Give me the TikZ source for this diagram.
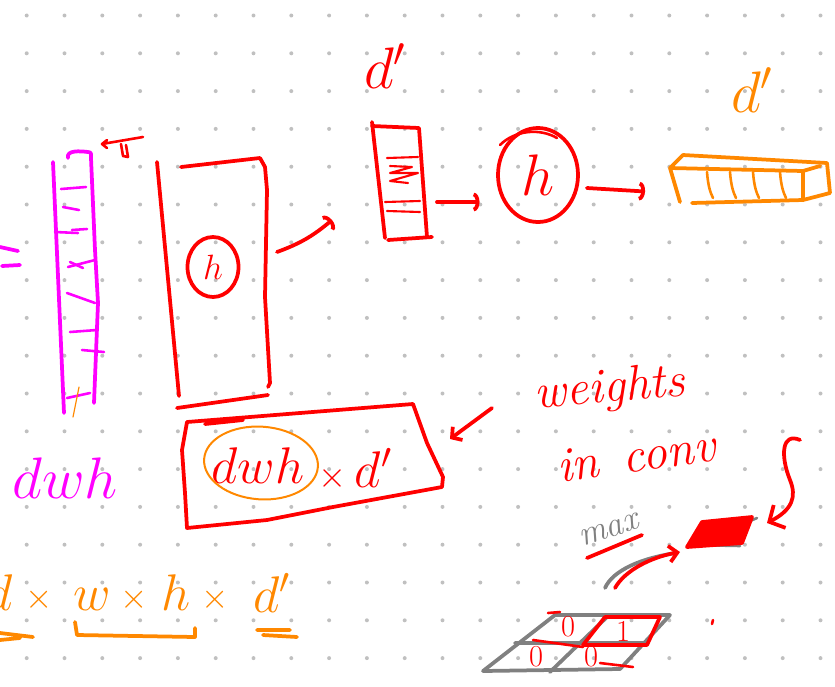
\RequirePackage{fix-cm}
\documentclass[tikz,border=0pt]{standalone}
\usepackage{amsmath,amssymb}
\usepackage{xcolor}
\usepackage{tikz}
\usetikzlibrary{positioning, arrows.meta, calc, shapes.geometric}
\definecolor{penred}{RGB}{255,0,0}
\definecolor{penmagenta}{RGB}{255,0,255}
\definecolor{penorange}{RGB}{255,136,0}
\definecolor{pengray}{RGB}{128,128,128}
\definecolor{dotgray}{RGB}{192,192,192}
\newcommand{\handbig}{\fontsize{50}{54}\selectfont}
\newcommand{\handmid}{\fontsize{44}{48}\selectfont}
\newcommand{\handtext}{\fontsize{42}{46}\selectfont}
\newcommand{\handsmall}{\fontsize{30}{34}\selectfont}
\newcommand{\handdigit}{\fontsize{26}{30}\selectfont}
\tikzset{
  pen/.style={
    line width=3.2pt,
    line cap=round,
    line join=round
  },
  thinpen/.style={
    line width=2.2pt,
    line cap=round,
    line join=round
  },
  handarrow/.style={
    pen,
    -{Arc Barb[length=5pt,width=16pt]}
  },
  barbarrow/.style={
    pen,
    -{Straight Barb[length=10pt,width=22pt]}
  },
  inkcircle/.style={
    ellipse,
    draw,
    line width=3.2pt,
    inner sep=0pt
  },
  inklabel/.style={
    inner sep=0pt
  }
}

\begin{document}
\begin{tikzpicture}[x=0.03cm, y=-0.03cm]
  \useasboundingbox (0,0) rectangle (835,686);
  \foreach \i in {0,...,21}
    \foreach \j in {0,...,17}
      \fill[dotgray] (26.7+37.8*\i, 15.5+37.8*\j) circle (1.7pt);

  % input column
  \draw[pen, penmagenta] (53,162) -- (64,413);
  \draw[pen, penmagenta] (68,158) .. controls (66,150) and (80,151) .. (88,152)
    .. controls (92,152) and (91,155) .. (91,158) -- (95,250) -- (98,303) -- (94,403);
  \foreach \xa/\ya/\xb/\yb in {61/189/86/187, 63/207/79/210, 55/232/78/233,
      72/230/87/229, 68/267/95/260, 70/262/83/268, 67/293/95/303,
      70/332/97/330, 82/350/104/352, 67/398/90/393}
    \draw[thinpen, penmagenta] (\xa,\ya) -- (\xb,\yb);
  \draw[thinpen, penorange, line width=1pt] (73,417) -- (79,387);
  \draw[pen, penmagenta] (0,247) -- (18,251) (2,266) -- (20,265);
  \node[inklabel, text=penmagenta, font=\handbig] (dwh) at (65,478) {$dwh$};

  % transpose mark
  \draw[thinpen, penred] (143,137) -- (102,144) (107,140) -- (102,144) -- (107,148);
  \draw[thinpen, penred] (121,144) -- (123,156) -- (128,157) -- (126,145);

  % weight matrix
  \draw[pen, penred] (157,162) -- (179,396);
  \draw[pen, penred] (181,167) -- (260,158) -- (265,167) -- (267,190) -- (265,297)
    -- (270,383) -- (268,387);
  \draw[pen, penred] (177,408) -- (268,395);
  \node[inkcircle, draw=penred, text=penred, minimum width=1.53cm,
    minimum height=1.8cm, font=\handsmall] (hin) at (213,267) {$h$};

  \coordinate (bigout) at (277,252);
  \coordinate (tallin) at (332,220);
  \draw[handarrow, penred] (bigout) to[out=20, in=220] (tallin);

  % hidden vector
  \node[inklabel, text=penred, font=\handbig] (dtop) at (385,66) {$d'$};
  \draw[pen, penred] (372,122) -- (385,238);
  \draw[pen, penred] (372,126) -- (419,128) -- (427,237);
  \draw[pen, penred] (388,240) -- (432,237);
  \draw[thinpen, penred, line width=1.8pt] (387,158) -- (418,157)
    (390,166) -- (412,167) -- (390,173) -- (418,173) -- (390,181) -- (408,183)
    (385,202) -- (420,201) (387,211) -- (420,212);

  \node[inkcircle, draw=penred, text=penred, minimum width=2.4cm,
    minimum height=2.82cm, font=\handbig] (hbig) at (538,175) {$h$};
  \draw[thinpen, penred] (500,145) .. controls (515,130) and (540,128) .. (557,138);

  \coordinate (tallout) at (437,202);
  \draw[handarrow, penred, shorten >=0.5cm] (tallout) -- (tallout -| hbig.west);

  % output vector
  \node[inklabel, text=penorange, font=\handbig] (dright) at (752,90) {$d'$};
  \draw[pen, penorange] (670,168) -- (683,155) -- (827,163) -- (830,193) -- (803,200)
    -- (803,171) -- (670,168) -- (680,202);
  \draw[pen, penorange] (692,203) -- (803,200);
  \draw[pen, penorange] (803,171) -- (820,166);
  \foreach \xa in {707,730,753,780}
    \draw[thinpen, penorange] (\xa,172) .. controls (\xa+1,185) and (\xa+3,192) .. (\xa+6,198);

  \coordinate (barL) at (670,193);
  \draw[handarrow, penred, shorten >=0.75cm] ($(hbig.east)+(7,13)$) -- (barL);

  % weights box
  \draw[pen, penred] (187,422) -- (413,404) -- (427,443) -- (443,477) -- (442,487)
    -- (333,507) -- (267,520) -- (187,528) -- (185,493) -- (182,450) -- cycle;
  \draw[pen, penred] (205,424) -- (243,420);
  \node[inklabel, text=penred, font=\handmid] (dwhbox) at (258,466) {$dwh$};
  \draw[penorange, line width=1.7pt, rotate around={-4:(261,463)}]
    (261,463) ellipse [x radius=1.71cm, y radius=1.09cm];
  \node[inklabel, text=penred, font=\handmid, anchor=base west] (dtimes)
    at (318,487) {$\scriptstyle\times$\,$d'$};

  \node[inklabel, text=penred, font=\handtext\itshape, rotate=5] (wt) at (610,390) {weights};
  \node[inklabel, text=penred, font=\handtext\itshape, rotate=8] (conv) at (636,456) {in\,\,\,conv};
  \coordinate (wtail) at (492,408);
  \coordinate (boxR) at (450,439);
  \draw[penred, pen, -{Straight Barb[length=6pt,width=14pt]}] (wtail) -- (boxR);

  % pooling
  \coordinate (stail) at (800,440);
  \coordinate (poolR) at (767,523);
  \draw[barbarrow, penred] (stail) .. controls (782,432) and (780,455) .. (790,480)
    .. controls (797,497) and (792,510) .. (poolR);

  \draw[thinpen, pengray] (706,527) -- (690,545) -- (740,546) (748,522) -- (757,518);
  \fill[penred] (702,522) -- (752,517) -- (742,543) -- (687,547) -- cycle;
  \draw[pen, penred] (702,522) -- (752,517) -- (742,543) -- (687,547) -- cycle;

  \node[inklabel, text=pengray, font=\handsmall\itshape, rotate=18] (mx) at (609,530) {max};
  \draw[pen, penred] (587,558) -- (642,535);
  \coordinate (maxtail) at (605,588);
  \coordinate (poolL) at (680,552);
  \draw[pen, pengray] (maxtail) .. controls (613,570) and (642,558) .. ($(poolL)+(-4,1)$);
  \draw[penred, pen, -{Straight Barb[length=7pt,width=14pt]}]
    ($(maxtail)+(10,0)$) .. controls (625,570) and (652,557) .. (poolL);

  % 2x2 grid
  \draw[pen, pengray] (555,615) -- (670,615) -- (620,669) -- (483,671) -- cycle;
  \draw[pen, pengray] (515,643) -- (645,643) (608,616) -- (550,672);
  \node[inklabel, text=penred, font=\handdigit] (g00) at (568,627) {0};
  \node[inklabel, text=penred, font=\handdigit] (g01) at (623,631) {1};
  \node[inklabel, text=penred, font=\handdigit] (g10) at (536,657) {0};
  \node[inklabel, text=penred, font=\handdigit] (g11) at (591,657) {0};
  \draw[pen, penred] (605,617) -- (660,617) -- (647,645) -- (583,645) -- cycle;
  \draw[thinpen, penred] (548,613) -- (560,612) (533,640) -- (583,647)
    (600,663) -- (633,667) (713,620) -- (712,624);

  % parameter count
  \node[inklabel, text=penorange, font=\handmid, anchor=base] (fd) at (0,610) {$d$};
  \node[inklabel, text=penorange, font=\handsmall, anchor=base] (fx1) at (39,608) {$\times$};
  \node[inklabel, text=penorange, font=\handmid, anchor=base] (fw) at (92,610) {$w$};
  \node[inklabel, text=penorange, font=\handsmall, anchor=base] (fx2) at (134,608) {$\times$};
  \node[inklabel, text=penorange, font=\handmid, anchor=base] (fh) at (176,610) {$h$};
  \node[inklabel, text=penorange, font=\handsmall, anchor=base] (fx3) at (215,608) {$\times$};
  \node[inklabel, text=penorange, font=\handmid, anchor=base] (fdp) at (272,612) {$d'$};
  \draw[pen, penorange] (75,622) -- (77,635) -- (195,637) -- (195,628);
  \draw[pen, penorange] (0,633) -- (33,637) (0,640) -- (20,638);
  \draw[pen, penorange] (257,630) -- (290,630) (263,635) -- (297,637);
\end{tikzpicture}
\end{document}
